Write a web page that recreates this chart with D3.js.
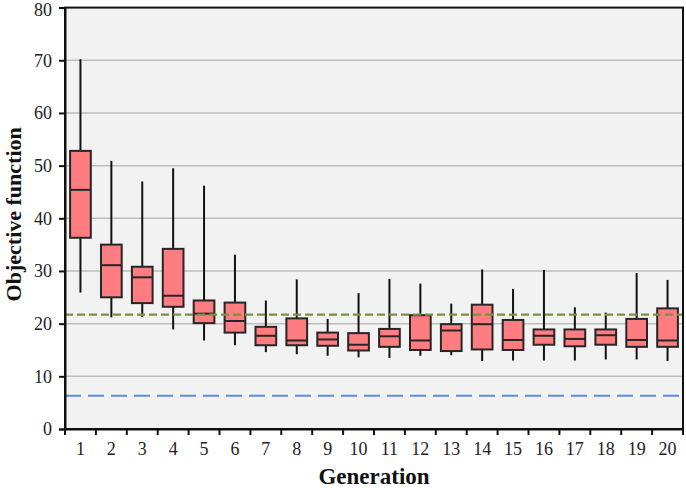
<!DOCTYPE html>
<html>
<head>
<meta charset="utf-8">
<script src="https://cdn.jsdelivr.net/npm/d3@7"></script>
<style>
  html, body { margin: 0; padding: 0; background: #ffffff; }
  svg { display: block; }
  svg text { font-family: "Liberation Serif", "Times New Roman", serif; }
</style>
</head>
<body>
<div id="chart"></div>
<script>
const generations = ["1","2","3","4","5","6","7","8","9","10","11","12","13","14","15","16","17","18","19","20"];
const whiskerMax = [70.2, 50.9, 47.0, 49.5, 46.2, 33.1, 24.4, 28.4, 20.9, 25.8, 28.5, 27.6, 23.8, 30.3, 26.6, 30.2, 23.1, 22.1, 29.6, 28.3];
const q3Values   = [52.8, 35.0, 30.8, 34.2, 24.4, 24.0, 19.4, 21.0, 18.3, 18.2, 19.0, 21.6, 19.9, 23.6, 20.7, 18.9, 18.9, 18.9, 20.9, 22.9];
const medians    = [45.4, 31.1, 28.8, 25.3, 21.9, 20.5, 17.7, 16.8, 17.0, 16.0, 17.6, 16.8, 18.7, 19.9, 16.9, 17.7, 17.1, 17.8, 16.9, 16.8];
const q1Values   = [36.3, 25.0, 23.9, 23.2, 20.1, 18.3, 15.9, 15.9, 15.8, 14.9, 15.6, 15.0, 14.8, 15.1, 15.0, 16.0, 15.7, 16.0, 15.6, 15.6];
const whiskerMin = [25.9, 21.2, 21.3, 18.9, 16.8, 15.9, 14.6, 14.2, 13.9, 13.6, 13.5, 13.9, 14.0, 12.9, 13.0, 13.0, 13.0, 13.2, 13.2, 12.9];
const yTicks = [0, 10, 20, 30, 40, 50, 60, 70, 80];
const greenRef = [21.7];
const blueRef = [6.3];

const W = 686, H = 488;
const margin = { left: 65, right: 3, top: 7.6, bottom: 59 };
const svg = d3.select("#chart").append("svg").attr("width", W).attr("height", H);

const x = d3.scaleBand().domain(generations).range([margin.left, W - margin.right]).paddingInner(0).paddingOuter(0);
const y = d3.scaleLinear().domain([0, 80]).range([H - margin.bottom, margin.top]);

const serif = "Liberation Serif, Times New Roman, serif";

// plot background
svg.append("rect")
  .attr("x", margin.left).attr("y", y(80))
  .attr("width", (W - margin.right) - margin.left)
  .attr("height", y(0) - y(80))
  .attr("fill", "#f2f2f2");

// gridlines
svg.append("g").selectAll("line").data(yTicks.filter(t => t > 0 && t < 80)).join("line")
  .attr("x1", margin.left).attr("x2", W - margin.right)
  .attr("y1", d => y(d)).attr("y2", d => y(d))
  .attr("stroke", "#bdbdbd").attr("stroke-width", 1.5);

// reference lines
svg.append("g").selectAll("line").data(blueRef).join("line")
  .attr("x1", margin.left).attr("x2", W - margin.right)
  .attr("y1", d => y(d)).attr("y2", d => y(d))
  .attr("stroke", "#5b8fd6").attr("stroke-width", 2).attr("stroke-dasharray", "16,7");

const data = generations.map((g, i) => ({
  g, hi: whiskerMax[i], q3: q3Values[i], med: medians[i], q1: q1Values[i], lo: whiskerMin[i]
}));

const bw = x.bandwidth() * 0.67;
const boxes = svg.append("g").selectAll("g").data(data).join("g")
  .attr("transform", d => `translate(${x(d.g) + x.bandwidth() / 2},0)`);

boxes.append("line")
  .attr("x1", 0).attr("x2", 0)
  .attr("y1", d => y(d.hi)).attr("y2", d => y(d.lo))
  .attr("stroke", "#111").attr("stroke-width", 2);

boxes.append("rect")
  .attr("x", -bw / 2).attr("width", bw)
  .attr("y", d => y(d.q3)).attr("height", d => y(d.q1) - y(d.q3))
  .attr("fill", "#ff7c80").attr("stroke", "#262626").attr("stroke-width", 2);

boxes.append("line")
  .attr("x1", -bw / 2).attr("x2", bw / 2)
  .attr("y1", d => y(d.med)).attr("y2", d => y(d.med))
  .attr("stroke", "#262626").attr("stroke-width", 2);

// green reference line drawn over boxes
svg.append("g").selectAll("line").data(greenRef).join("line")
  .attr("x1", margin.left).attr("x2", W - margin.right)
  .attr("y1", d => y(d)).attr("y2", d => y(d))
  .attr("stroke", "#77933c").attr("stroke-width", 2.2).attr("stroke-dasharray", "8,4");

// frame
svg.append("rect")
  .attr("x", margin.left).attr("y", y(80))
  .attr("width", (W - margin.right) - margin.left)
  .attr("height", y(0) - y(80))
  .attr("fill", "none").attr("stroke", "#111").attr("stroke-width", 2);

// y axis
const yAxis = svg.append("g")
  .attr("transform", `translate(${margin.left},0)`)
  .call(d3.axisLeft(y).tickValues(yTicks).tickSize(6).tickPadding(7).tickFormat(d3.format("d")));
yAxis.attr("font-family", null).attr("font-size", null);
yAxis.select(".domain").attr("stroke", "#111").attr("stroke-width", 2);
yAxis.selectAll(".tick line").attr("stroke", "#111").attr("stroke-width", 2);
yAxis.selectAll(".tick text").style("font-family", serif).style("font-size", "18px").attr("fill", "#222");
yAxis.selectAll(".tick").filter(d => d === 80).select("text").attr("dy", "0.45em");

// x axis: ticks at category boundaries
const xAxis = svg.append("g").attr("transform", `translate(0,${y(0)})`);
xAxis.call(d3.axisBottom(x).tickSize(0).tickPadding(13));
xAxis.attr("font-family", null).attr("font-size", null);
xAxis.select(".domain").attr("stroke", "#111").attr("stroke-width", 2);
xAxis.selectAll(".tick text").style("font-family", serif).style("font-size", "18px").attr("fill", "#222");
const bounds = generations.map(g => x(g)).concat([x(generations[generations.length - 1]) + x.bandwidth()]);
xAxis.append("g").selectAll("line").data(bounds).join("line")
  .attr("x1", d => d).attr("x2", d => d)
  .attr("y1", 0).attr("y2", 6)
  .attr("stroke", "#111").attr("stroke-width", 2);

// axis titles
svg.append("text")
  .attr("x", (margin.left + W - margin.right) / 2).attr("y", 484)
  .attr("text-anchor", "middle")
  .style("font-family", serif).style("font-weight", "bold").style("font-size", "23px").attr("fill", "#111")
  .text("Generation");

svg.append("text")
  .attr("transform", `translate(21,${(y(0) + y(80)) / 2 - 4}) rotate(-90)`)
  .attr("text-anchor", "middle")
  .style("font-family", serif).style("font-weight", "bold").style("font-size", "22px").attr("fill", "#111")
  .text("Objective function");
</script>
</body>
</html>
